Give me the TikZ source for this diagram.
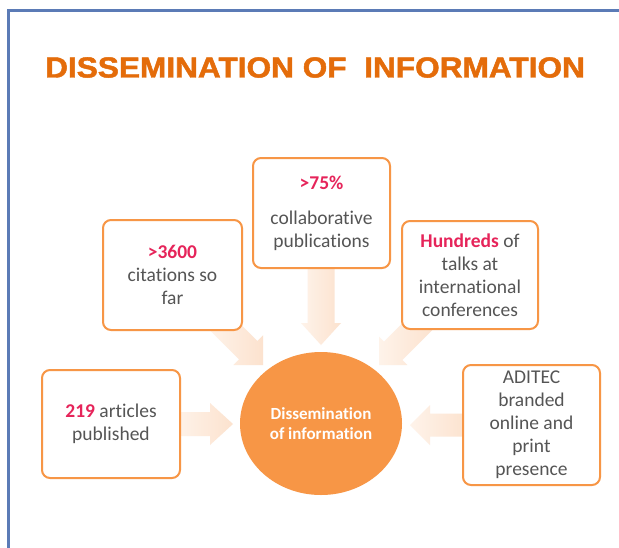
\documentclass[tikz,border=0pt]{standalone}
\usepackage{fontspec}
\setmainfont{Carlito}[Ligatures=NoCommon]
\newfontfamily\titlefont{Liberation Sans}[BoldFeatures={FakeBold=1.6}]
\usetikzlibrary{shapes.geometric,calc}
\definecolor{frameblue}{HTML}{5B7BB6}
\definecolor{titleorange}{HTML}{E46C0A}
\definecolor{boxorange}{HTML}{F79646}
\definecolor{circorange}{HTML}{F79646}
\definecolor{hired}{HTML}{E6245A}
\definecolor{txtgray}{HTML}{555555}
\definecolor{arrback}{HTML}{FEF3EA}
\definecolor{arrtip}{HTML}{FCE2CE}
\newcommand\hl[1]{{\bfseries\color{hired}#1}}
% #1 tip coordinate, #2 angle, #3 total length, #4 head length, #5 head half width, #6 shaft half width
\newcommand\blockarr[6]{%
  \shade[left color=arrback,right color=arrtip,shift={(#1)},rotate=#2]
    (0,0) -- (-#4,#5) -- (-#4,#6) -- (-#3,#6) -- (-#3,-#6) -- (-#4,-#6) -- (-#4,-#5) -- cycle;}
\begin{document}
\begin{tikzpicture}[x=1pt,y=-1pt,
  framestyle/.style={draw=frameblue,line width=3pt},
  infobox/.style={draw=boxorange,line width=2pt,rounded corners=8pt,fill=white,
    align=center,text=txtgray,inner sep=0pt,
    font=\fontsize{19.5}{23}\selectfont},
  hubcircle/.style={ellipse,fill=circorange,inner sep=0pt,minimum width=162pt,
    minimum height=143pt,align=center,text=white,font=\bfseries\fontsize{17}{20.5}\selectfont},
  titletext/.style={inner sep=0pt,text=titleorange,font=\titlefont\bfseries\fontsize{29}{29}\selectfont}]
\useasboundingbox (0,0) rectangle (619,547);
\fill[white] (0,0) rectangle (619,547);
% frame
\coordinate (ftr) at (621,10);
\coordinate (ftl) at (8,10);
\coordinate (fbl) at (8,549);
\draw[framestyle] (ftr) -- (ftl) -- (fbl);
% title
\node[titletext] (title) at (315,67.5) {\scalebox{1.09}[1]{DISSEMINATION OF\ \ INFORMATION}};
% arrow tips
\coordinate (ttop) at (321,345);
\coordinate (tleft) at (233,424);
\coordinate (tright) at (410,425);
\coordinate (tul) at (263,365);
\coordinate (tur) at (379,365);
\blockarr{ttop}{-90}{82}{22}{20}{13.5}
\blockarr{tleft}{0}{58}{23}{21}{12}
\blockarr{tright}{180}{58}{20}{20}{11.5}
\blockarr{tul}{-45}{65}{21}{21}{13}
\blockarr{tur}{-135}{65}{20}{20}{13}
% boxes
\node[infobox,minimum width=137pt,minimum height=110pt] (b75) at (321.5,213)
  {\hl{>75\%}\\[12pt]collaborative\\publications};
\node[infobox,minimum width=139pt,minimum height=110pt] (b3600) at (172.5,275)
  {\hl{>3600}\\citations so\\far};
\node[infobox,minimum width=136pt,minimum height=108pt] (bhund) at (470,275)
  {\hl{Hundreds} of\\talks at\\international\\conferences};
\node[infobox,minimum width=138pt,minimum height=108pt] (b219) at (111,424)
  {\hl{219} articles\\published};
\node[infobox,minimum width=137pt,minimum height=120pt] (badi) at (531.5,425)
  {ADITEC\\branded\\online and\\print\\presence};
% hub
\node[hubcircle] (hub) at (321,423.5) {Dissemination\\of information};
\end{tikzpicture}
\end{document}
